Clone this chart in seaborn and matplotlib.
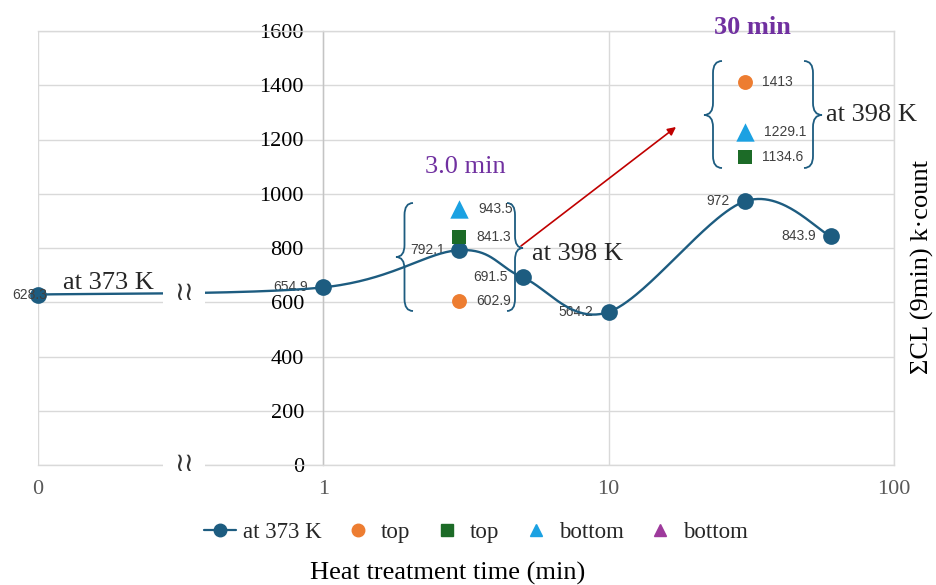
import numpy as np
import pandas as pd
import matplotlib
matplotlib.use("Agg")
import matplotlib.pyplot as plt
import seaborn as sns
from matplotlib.path import Path
from matplotlib.patches import PathPatch, Rectangle
from matplotlib.lines import Line2D

# ---------------- data ----------------
time_373 = [0, 1, 3, 5, 10, 30, 60]
cl_373 = [628.3, 654.9, 792.1, 691.5, 564.2, 972, 843.9]

time_398 = [3, 30]
top_circle = [602.9, 1413]
top_square = [841.3, 1134.6]
bottom_triangle = [943.5, 1229.1]

x_ticks = [0.1, 1, 10, 100]
x_ticklabels = ["0", "1", "10", "100"]
y_ticks = [0, 200, 400, 600, 800, 1000, 1200, 1400, 1600]
legend_labels = ["at 373 K", "top", "top", "bottom", "bottom"]

# ---------------- styles ----------------
TEAL = "#1d5c80"
ORANGE = "#ED7D31"
GREEN = "#1c6b27"
BLUE = "#1BA1E2"
PURPLE = "#9e3a9c"
VIOLET = "#7030A0"
GRID = "#d9d9d9"
LBL = "#404040"
SERIF = "Liberation Serif"
SANS = "Liberation Sans"

sns.set_theme(style="white")
plt.rcParams["font.family"] = [SERIF, "DejaVu Sans"]

W, H = 936, 585
fig = plt.figure(figsize=(W / 100, H / 100), dpi=100)
L, R, T, B = 38, 894, 31, 465
ax = fig.add_axes([L / W, 1 - B / H, (R - L) / W, (B - T) / H])


def px(x, y):
    return (x / W, 1 - y / H)


# map "0" to 0.1 on the log axis
xs = np.array([0.1 if t == 0 else t for t in time_373], dtype=float)
lx = np.log10(xs)
yv = np.array(cl_373, dtype=float)

# Excel-like smoothing (Catmull-Rom / cubic Bezier) in (log x, y)
P = np.column_stack([lx, yv])
Pext = np.vstack([P[0], P, P[-1]])
curve = []
tt = np.linspace(0, 1, 60)
for i in range(len(P) - 1):
    p0, p1, p2, p3 = Pext[i], Pext[i + 1], Pext[i + 2], Pext[i + 3]
    c1 = p1 + (p2 - p0) / 6
    c2 = p2 - (p3 - p1) / 6
    seg = ((1 - tt) ** 3)[:, None] * p1 + (3 * (1 - tt) ** 2 * tt)[:, None] * c1 \
        + (3 * (1 - tt) * tt ** 2)[:, None] * c2 + (tt ** 3)[:, None] * p2
    curve.append(seg if i == 0 else seg[1:])
curve = np.vstack(curve)
df_curve = pd.DataFrame({"x": 10 ** curve[:, 0], "y": curve[:, 1]})

sns.lineplot(data=df_curve, x="x", y="y", sort=False, estimator=None,
             color=TEAL, lw=1.7, ax=ax, zorder=3)
df_pts = pd.DataFrame({"x": xs, "y": yv})
sns.scatterplot(data=df_pts, x="x", y="y", color=TEAL, s=145, ax=ax,
                edgecolor=TEAL, linewidth=0, zorder=4, clip_on=False)

x398 = np.array(time_398, dtype=float)
sns.scatterplot(x=x398, y=top_circle, color=ORANGE, marker="o", s=115,
                linewidth=0, ax=ax, zorder=4)
sns.scatterplot(x=x398, y=top_square, color=GREEN, marker="s", s=100,
                linewidth=0, ax=ax, zorder=4)
sns.scatterplot(x=x398, y=bottom_triangle, color=BLUE, marker="^", s=175,
                linewidth=0, ax=ax, zorder=4)

ax.set_xscale("log")
ax.set_xlim(0.1, 100)
ax.set_ylim(0, 1600)
ax.set_xticks(x_ticks)
ax.set_xticklabels(x_ticklabels)
ax.xaxis.set_minor_locator(matplotlib.ticker.NullLocator())
ax.set_yticks(y_ticks)
ax.set_yticklabels([str(v) for v in y_ticks])
ax.grid(True, color=GRID, lw=1)
ax.set_axisbelow(True)
for s in ["top", "right", "bottom"]:
    ax.spines[s].set_color(GRID)
    ax.spines[s].set_linewidth(1)
ax.spines["left"].set_position(("data", 1))
ax.spines["left"].set_color("#c4c4c4")
ax.spines["left"].set_linewidth(1)
ax.spines["left"].set_zorder(1)
ax.tick_params(axis="y", length=0, pad=14, labelsize=16, labelcolor="black")
ax.tick_params(axis="x", length=0, pad=11, labelsize=16, labelcolor="#595959")
for lab in ax.get_yticklabels() + ax.get_xticklabels():
    lab.set_fontfamily(SERIF)

ax.set_xlabel("Heat treatment time (min)", fontsize=19, fontfamily=SERIF, color="black")
ax.xaxis.set_label_coords((448 - L) / (R - L), (B - 573) / (B - T))
ax.xaxis.label.set_va("center")
ax.set_ylabel("ΣCL (9min) k·count", fontsize=19, fontfamily=SERIF, color="black")
ax.yaxis.set_label_position("right")
ax.yaxis.set_label_coords((922 - L) / (R - L), (B - 267) / (B - T))
ax.yaxis.label.set_va("center")
ax.yaxis.label.set_rotation(90)

# data labels for the main series (left of points)
for i, (x, y) in enumerate(zip(xs, yv)):
    txt = f"{cl_373[i]:g}"
    dx = 9 if i == 0 else -15
    ax.annotate(txt, (x, y), xytext=(dx, 0), textcoords="offset pixels",
                ha="right", va="center", fontsize=10, color=LBL,
                fontfamily=SANS, zorder=2 if i else 5)

# data labels for 398 K markers (right of points)
for vals, off in [(top_circle, 17), (top_square, 17), (bottom_triangle, 19)]:
    for x, y in zip(x398, vals):
        ax.annotate(f"{y:g}", (x, y), xytext=(off, 0), textcoords="offset pixels",
                    ha="left", va="center", fontsize=10, color=LBL, fontfamily=SANS)

# texts
fig.text(*px(108, 283), "at 373 K", fontsize=19, ha="center", va="center", fontfamily=SERIF)
fig.text(*px(577, 254), "at 398 K", fontsize=19, ha="center", va="center", fontfamily=SERIF)
fig.text(*px(872, 115), "at 398 K", fontsize=19, ha="center", va="center", fontfamily=SERIF)
fig.text(*px(465, 167), "3.0 min", fontsize=19, ha="center", va="center",
         color=VIOLET, fontfamily=SERIF)
fig.text(*px(752, 27), "30 min", fontsize=19, ha="center", va="center",
         color=VIOLET, fontweight="bold", fontfamily=SERIF)


# curly braces
def brace(x_tip, x_open, top, bottom, ym):
    w = x_open - x_tip
    xm = x_tip + w / 2
    r = min(12, (bottom - top) / 6)
    pts = [(x_open, top), (xm, top), (xm, top + r), (xm, ym - r), (xm, ym), (x_tip, ym),
           (xm, ym), (xm, ym + r), (xm, bottom - r), (xm, bottom), (x_open, bottom)]
    codes = [Path.MOVETO, Path.CURVE3, Path.CURVE3, Path.LINETO, Path.CURVE3, Path.CURVE3,
             Path.CURVE3, Path.CURVE3, Path.LINETO, Path.CURVE3, Path.CURVE3]
    verts = [px(a, b) for a, b in pts]
    patch = PathPatch(Path(verts, codes), fill=False, edgecolor=TEAL, lw=1.3,
                      transform=fig.transFigure, zorder=5)
    fig.add_artist(patch)


brace(396, 413, 203, 311, 257)
brace(523, 507, 203, 311, 248)
brace(704, 722, 61, 168, 115)
brace(822, 804, 61, 168, 115)

# red arrow
ax.annotate("", xy=px(676, 127), xycoords="figure fraction",
            xytext=px(521, 246), textcoords="figure fraction",
            arrowprops=dict(arrowstyle="-|>", color="#c00000", lw=1.2,
                            mutation_scale=12, shrinkA=0, shrinkB=0))

# axis break marks
for (cx, cy, hh) in [(184, 292, 26), (184, 463, 24)]:
    fig.add_artist(Rectangle(px(163, cy + hh / 2), 42 / W, hh / H,
                             transform=fig.transFigure, facecolor="white",
                             edgecolor="none", zorder=6))
    fig.text(*px(cx, cy + 1), "≀≀", fontsize=19, ha="center", va="center",
             color="#333333", fontfamily="DejaVu Sans", zorder=7)

# legend
handles = [
    Line2D([0], [0], color=TEAL, lw=1.6, marker="o", ms=9),
    Line2D([], [], ls="none", marker="o", color=ORANGE, ms=9),
    Line2D([], [], ls="none", marker="s", color=GREEN, ms=8),
    Line2D([], [], ls="none", marker="^", color=BLUE, ms=9),
    Line2D([], [], ls="none", marker="^", color=PURPLE, ms=9),
]
fig.legend(handles, legend_labels, loc="center", bbox_to_anchor=px(476, 532),
           ncol=5, frameon=False, prop={"family": SERIF, "size": 16.5},
           handlelength=1.4, handletextpad=0.3, columnspacing=0.9)

fig.savefig("out.png", dpi=100)
